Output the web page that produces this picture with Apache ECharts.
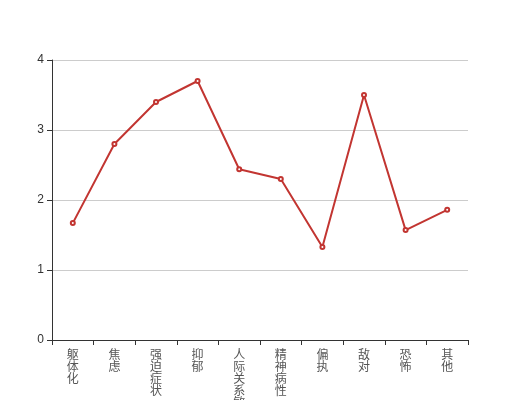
<!DOCTYPE html>
<html><head><meta charset="utf-8">
<script src="https://cdn.jsdelivr.net/npm/echarts@6/dist/echarts.min.js"></script>
<style>html,body{margin:0;padding:0;background:#fff}#c{width:520px;height:400px}</style>
</head><body><div id="c"></div>
<script>
var categories = ['躯体化','焦虑','强迫症状','抑郁','人际关系敏感','精神病性','偏执','敌对','恐怖','其他'];
var values = [1.67, 2.80, 3.40, 3.70, 2.44, 2.30, 1.33, 3.50, 1.57, 1.86];
var yTicks = [0, 1, 2, 3, 4];

var chart = echarts.init(document.getElementById('c'), null, {renderer:'canvas'});
chart.setOption({
  animation:false,
  grid:{left:52,right:52,top:60,bottom:60,containLabel:false,outerBoundsMode:'none'},
  xAxis:{
    type:'category',
    data:categories,
    boundaryGap:true,
    axisLine:{show:true,lineStyle:{color:'#333'}},
    axisTick:{show:true,alignWithLabel:false,lineStyle:{color:'#333'}},
    axisLabel:{
      interval:0,
      color:'#555',
      fontSize:12,
      lineHeight:12,
      fontFamily:'Noto Sans CJK SC',
      formatter:function(v){return v.split('').join('\n');}
    }
  },
  yAxis:{
    type:'value',
    min:yTicks[0],
    max:yTicks[yTicks.length-1],
    interval:1,
    axisLine:{show:true,lineStyle:{color:'#333'}},
    axisTick:{show:true,lineStyle:{color:'#333'}},
    axisLabel:{color:'#333',fontSize:12},
    splitLine:{lineStyle:{color:'#ccc'}}
  },
  series:[{
    type:'line',
    data:values,
    symbol:'emptyCircle',
    symbolSize:4,
    itemStyle:{color:'#c23531'},
    lineStyle:{color:'#c23531',width:2}
  }]
});
</script></body></html>
